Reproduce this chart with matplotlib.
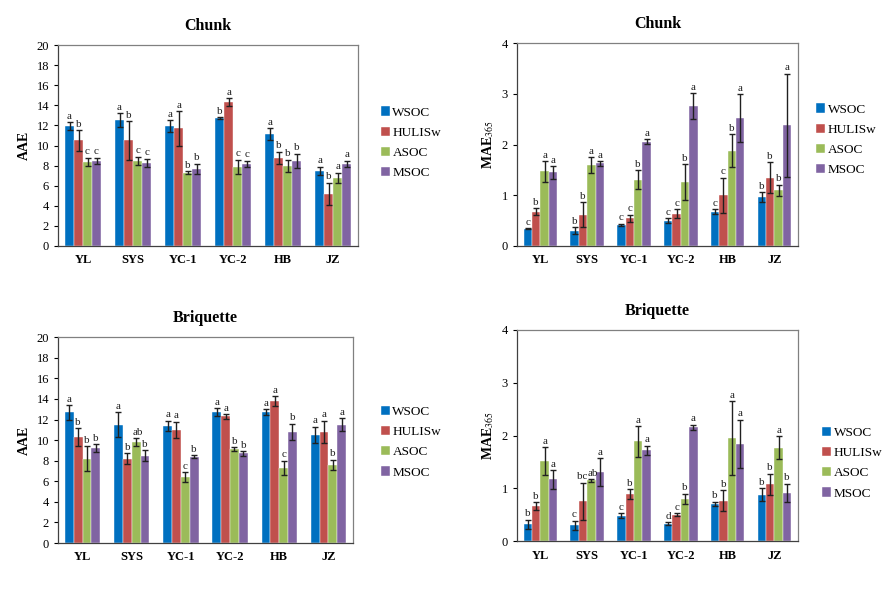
import matplotlib
matplotlib.use("Agg")
import matplotlib.pyplot as plt
import numpy as np

plt.rcParams['font.family'] = ['Liberation Serif', 'DejaVu Serif']
plt.rcParams['mathtext.fontset'] = 'stix'

sites = ["YL", "SYS", "YC-1", "YC-2", "HB", "JZ"]
series = ["WSOC", "HULISw", "ASOC", "MSOC"]
colors = ["#0070C0", "#C0504D", "#9BBB59", "#8064A2"]

# Chunk AAE
chunk_aae = [[11.9, 12.5, 11.9, 12.7, 11.1, 7.5],
             [10.5, 10.5, 11.7, 14.3, 8.8, 5.2],
             [8.4, 8.5, 7.3, 7.9, 8.0, 6.8],
             [8.5, 8.3, 7.7, 8.2, 8.5, 8.2]]
chunk_aae_err = [[0.4, 0.7, 0.6, 0.1, 0.6, 0.4],
                 [1.0, 1.9, 1.7, 0.4, 0.6, 1.1],
                 [0.4, 0.4, 0.15, 0.7, 0.6, 0.5],
                 [0.3, 0.4, 0.5, 0.3, 0.7, 0.3]]
chunk_aae_lbl = [["a", "a", "a", "b", "a", "a"],
                 ["b", "b", "a", "a", "b", "b"],
                 ["c", "c", "b", "c", "b", "a"],
                 ["c", "c", "b", "c", "b", "a"]]

# Chunk MAE365
chunk_mae = [[0.34, 0.30, 0.42, 0.50, 0.68, 0.97],
             [0.68, 0.62, 0.55, 0.64, 1.00, 1.35],
             [1.47, 1.60, 1.31, 1.26, 1.88, 1.10],
             [1.45, 1.63, 2.06, 2.76, 2.53, 2.38]]
chunk_mae_err = [[0.01, 0.07, 0.02, 0.05, 0.04, 0.10],
                 [0.07, 0.25, 0.07, 0.09, 0.35, 0.31],
                 [0.20, 0.16, 0.18, 0.36, 0.33, 0.11],
                 [0.13, 0.05, 0.05, 0.26, 0.47, 1.02]]
chunk_mae_lbl = [["c", "b", "c", "c", "c", "b"],
                 ["b", "b", "c", "c", "c", "b"],
                 ["a", "a", "b", "b", "b", "b"],
                 ["a", "a", "a", "a", "a", "a"]]

# Briquette AAE
briq_aae = [[12.7, 11.5, 11.4, 12.7, 12.7, 10.5],
            [10.3, 8.2, 11.0, 12.3, 13.8, 10.8],
            [8.2, 9.8, 6.4, 9.1, 7.3, 7.6],
            [9.2, 8.5, 8.4, 8.7, 10.8, 11.5]]
briq_aae_err = [[0.7, 1.2, 0.5, 0.4, 0.3, 0.8],
                [0.9, 0.5, 0.8, 0.25, 0.5, 1.1],
                [1.2, 0.4, 0.5, 0.2, 0.7, 0.5],
                [0.4, 0.5, 0.15, 0.2, 0.8, 0.6]]
briq_aae_lbl = [["a", "a", "a", "a", "a", "a"],
                ["b", "b", "a", "a", "a", "a"],
                ["b", "ab", "c", "b", "c", "b"],
                ["b", "b", "b", "b", "b", "a"]]

# Briquette MAE365
briq_mae = [[0.32, 0.30, 0.48, 0.33, 0.71, 0.88],
            [0.67, 0.76, 0.89, 0.50, 0.77, 1.08],
            [1.52, 1.15, 1.89, 0.80, 1.95, 1.77],
            [1.17, 1.31, 1.72, 2.16, 1.84, 0.92]]
briq_mae_err = [[0.09, 0.09, 0.05, 0.03, 0.04, 0.12],
                [0.07, 0.35, 0.09, 0.03, 0.20, 0.20],
                [0.26, 0.02, 0.29, 0.10, 0.70, 0.22],
                [0.18, 0.26, 0.09, 0.05, 0.46, 0.17]]
briq_mae_lbl = [["b", "c", "c", "d", "b", "b"],
                ["b", "bc", "b", "c", "b", "b"],
                ["a", "ab", "a", "b", "a", "a"],
                ["a", "a", "a", "a", "a", "b"]]

fig = plt.figure(figsize=(8.83, 6.0), dpi=100)

panels = [
    dict(rect=[0.0657, 0.59, 0.340, 0.335], title="Chunk", ylabel="AAE",
         vals=chunk_aae, err=chunk_aae_err, lbl=chunk_aae_lbl, ymax=20, step=2,
         leg=(0.425, 0.762)),
    dict(rect=[0.5855, 0.59, 0.318, 0.338], title="Chunk", ylabel=r"MAE$_{365}$",
         vals=chunk_mae, err=chunk_mae_err, lbl=chunk_mae_lbl, ymax=4, step=1,
         leg=(0.918, 0.767)),
    dict(rect=[0.0657, 0.095, 0.334, 0.343], title="Briquette", ylabel="AAE",
         vals=briq_aae, err=briq_aae_err, lbl=briq_aae_lbl, ymax=20, step=2,
         leg=(0.425, 0.263)),
    dict(rect=[0.5855, 0.098, 0.318, 0.352], title="Briquette", ylabel=r"MAE$_{365}$",
         vals=briq_mae, err=briq_mae_err, lbl=briq_mae_lbl, ymax=4, step=1,
         leg=(0.925, 0.228)),
]

x = np.arange(len(sites))
bw = 0.18
for p in panels:
    ax = fig.add_axes(p["rect"])
    handles = []
    for i, s in enumerate(series):
        pos = x + (i - 1.5) * bw
        v = np.array(p["vals"][i]); e = np.array(p["err"][i])
        h = ax.bar(pos, v, bw, color=colors[i], label=s, zorder=2,
                   edgecolor='white', linewidth=0.3)
        ax.errorbar(pos, v, yerr=e, fmt='none', ecolor='#202020',
                    elinewidth=1.0, capsize=2.5, capthick=1.0, zorder=3)
        handles.append(h)
        for xi, vi, ei, t in zip(pos, v, e, p["lbl"][i]):
            ty = vi + ei + p["ymax"] * 0.006
            if len(t) > 1 and i == 1:
                ax.text(xi + bw * 0.55, ty, t, ha='right', va='bottom',
                        fontsize=8, color='#202020')
            elif len(t) > 1 and i == 2:
                ax.text(xi - bw * 0.45, ty, t, ha='left', va='bottom',
                        fontsize=8, color='#202020')
            else:
                ax.text(xi, ty, t, ha='center', va='bottom',
                        fontsize=8, color='#202020')
    ax.set_xlim(-0.5, len(sites) - 0.5)
    ax.set_ylim(0, p["ymax"])
    ax.set_yticks(np.arange(0, p["ymax"] + 0.01, p["step"]))
    ax.set_xticks(x)
    ax.set_xticklabels(sites, fontsize=9, fontweight='bold')
    ax.tick_params(axis='y', labelsize=9, length=3, direction='out', width=0.8)
    ax.tick_params(axis='x', length=0, pad=6)
    for sp in ax.spines.values():
        sp.set_color('#808080')
        sp.set_linewidth(0.9)
    ax.spines['left'].set_color('#404040')
    ax.spines['bottom'].set_color('#404040')
    ax.set_ylabel(p["ylabel"], fontsize=10, fontweight='bold')
    ax.set_title(p["title"], fontsize=11.5, fontweight='bold', pad=11)
    fig.legend(handles=handles, labels=series, loc='center left',
               bbox_to_anchor=p["leg"], frameon=False, fontsize=9.5,
               handlelength=0.7, handleheight=0.7, handletextpad=0.2,
               labelspacing=0.6, borderaxespad=0)

fig.savefig("out.png", dpi=100)
